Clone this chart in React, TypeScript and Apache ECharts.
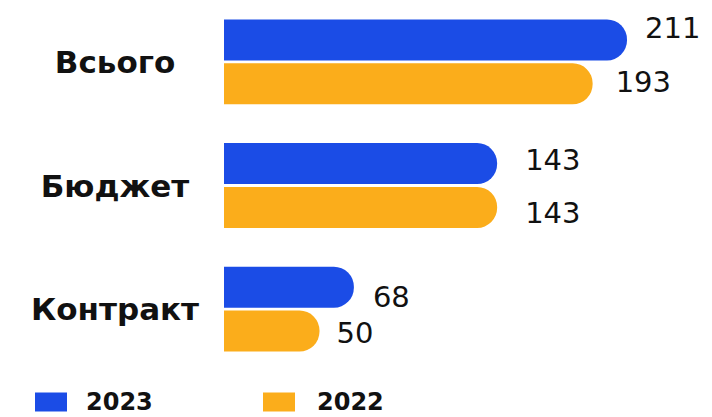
import React, { useEffect, useRef } from "react";
import * as echarts from "echarts";

const categories = ["Всього", "Бюджет", "Контракт"];
const values2023 = [211, 143, 68];
const values2022 = [193, 143, 50];
const seriesNames = ["2023", "2022"];

// label nudges [dx, dy] per bar (style only)
const nudges2023 = [[18, -12], [28, -4], [19, 10]];
const nudges2022 = [[23, -2], [28, 6], [17, 2]];

const BLUE = "#1B4CE6";
const ORANGE = "#FBAD1B";

export default function App() {
  const ref = useRef<HTMLDivElement>(null);
  useEffect(() => {
    if (!ref.current) return;
    const chart = echarts.init(ref.current, null, { renderer: "svg" });
    const labelStyle = {
      show: true,
      position: "right",
      distance: 0,
      fontFamily: "DejaVu Sans",
      fontSize: 29,
      color: "#111",
    };
    const legendText = (padLeft: number) => ({
      fontFamily: "DejaVu Sans",
      fontWeight: "bold",
      fontSize: 24,
      color: "#111",
      lineHeight: 26,
      padding: [0, 0, 0, padLeft],
    });
    const mk = (vals: number[], nudges: number[][]) =>
      vals.map((v, i) => ({ value: v, label: { offset: nudges[i] } }));
    chart.setOption({
      animation: false,
      backgroundColor: "#ffffff",
      grid: { left: 224, right: 10.5, top: 0, bottom: 46 },
      xAxis: {
        type: "value",
        min: 0,
        max: 250,
        show: false,
        splitLine: { show: false },
      },
      yAxis: {
        type: "category",
        data: categories,
        inverse: true,
        axisLine: { show: false },
        axisTick: { show: false },
        axisLabel: {
          margin: 109,
          align: "center",
          fontFamily: "DejaVu Sans",
          fontWeight: "bold",
          fontSize: 31,
          color: "#111",
        },
      },
      legend: [
        {
          data: [seriesNames[0]],
          left: 35,
          top: 389,
          padding: 0,
          icon: "rect",
          itemWidth: 32,
          itemHeight: 19,
          textStyle: legendText(14),
        },
        {
          data: [seriesNames[1]],
          left: 263,
          top: 389,
          padding: 0,
          icon: "rect",
          itemWidth: 32,
          itemHeight: 19,
          textStyle: legendText(17),
        },
      ],
      series: [
        {
          name: seriesNames[0],
          type: "bar",
          data: mk(values2023, nudges2023),
          barWidth: 41,
          barGap: "7%",
          itemStyle: { color: BLUE, borderRadius: [0, 20, 20, 0] },
          label: labelStyle,
        },
        {
          name: seriesNames[1],
          type: "bar",
          data: mk(values2022, nudges2022),
          barWidth: 41,
          barGap: "7%",
          itemStyle: { color: ORANGE, borderRadius: [0, 20, 20, 0] },
          label: labelStyle,
        },
      ],
    });
    return () => chart.dispose();
  }, []);
  return <div ref={ref} style={{ width: 712, height: 417, position: "fixed", left: 0, top: 0 }} />;
}
